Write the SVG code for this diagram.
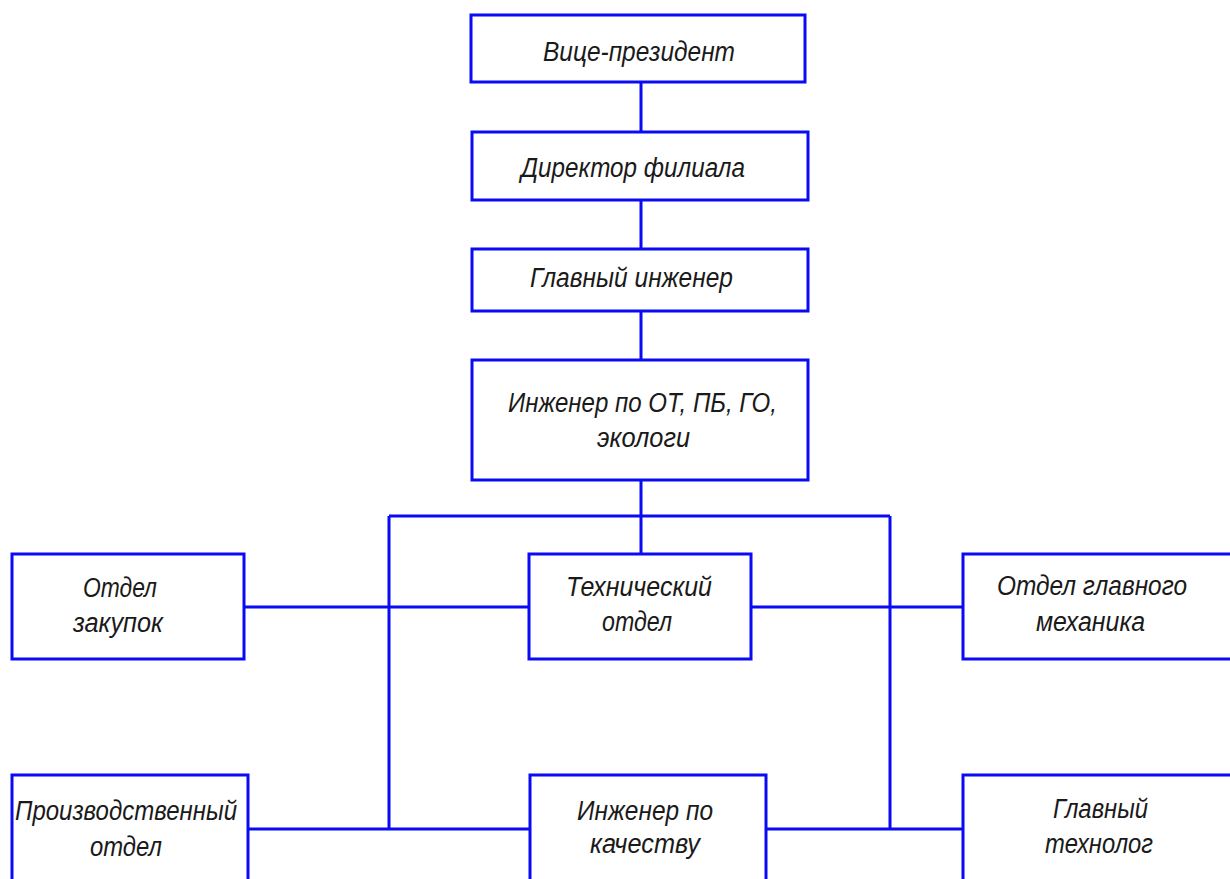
<svg xmlns="http://www.w3.org/2000/svg" width="1230" height="879" viewBox="0 0 1230 879">
<style>
.box{fill:#fff;stroke:#0a0af5;stroke-width:3}
.ln{fill:none;stroke:#0a0af5;stroke-width:3}
text{font-family:"Liberation Sans",Arial,sans-serif;font-style:italic;font-size:27px;fill:#1a1a1a}
</style>
<rect width="1230" height="879" fill="#fff"/>
<g id="connectors">
<path class="ln" d="M641 82V132M641 200V249M641 311V360M641 480V554M389 516H890M389 516V829M890 516V829M244 607H529M751 607H963M248 829H530M766 829H963"/>
</g>
<g id="n1"><rect class="box" x="471" y="15" width="334" height="67"/><text x="543" y="61" textLength="192" lengthAdjust="spacingAndGlyphs">Вице-президент</text></g>
<g id="n2"><rect class="box" x="472" y="132" width="336" height="68"/><text x="521" y="177" textLength="224" lengthAdjust="spacingAndGlyphs">Директор филиала</text></g>
<g id="n3"><rect class="box" x="472" y="249" width="336" height="62"/><text x="530" y="287" textLength="203" lengthAdjust="spacingAndGlyphs">Главный инженер</text></g>
<g id="n4"><rect class="box" x="472" y="360" width="336" height="120"/><text x="508" y="412" textLength="269" lengthAdjust="spacingAndGlyphs">Инженер по ОТ, ПБ, ГО,</text><text x="597" y="447" textLength="93" lengthAdjust="spacingAndGlyphs">экологи</text></g>
<g id="n5"><rect class="box" x="529" y="554" width="222" height="105"/><text x="566" y="596" textLength="146" lengthAdjust="spacingAndGlyphs">Технический</text><text x="602" y="631" textLength="70" lengthAdjust="spacingAndGlyphs">отдел</text></g>
<g id="n6"><rect class="box" x="12" y="554" width="232" height="105"/><text x="83" y="597" textLength="74" lengthAdjust="spacingAndGlyphs">Отдел</text><text x="73" y="632" textLength="90" lengthAdjust="spacingAndGlyphs">закупок</text></g>
<g id="n7"><rect class="box" x="963" y="554" width="280" height="105"/><text x="997" y="595" textLength="190" lengthAdjust="spacingAndGlyphs">Отдел главного</text><text x="1036" y="631" textLength="109" lengthAdjust="spacingAndGlyphs">механика</text></g>
<g id="n8"><rect class="box" x="12" y="775" width="236" height="120"/><text x="15" y="820" textLength="222" lengthAdjust="spacingAndGlyphs">Производственный</text><text x="90" y="856" textLength="72" lengthAdjust="spacingAndGlyphs">отдел</text></g>
<g id="n9"><rect class="box" x="530" y="775" width="236" height="120"/><text x="577" y="820" textLength="136" lengthAdjust="spacingAndGlyphs">Инженер по</text><text x="590" y="853" textLength="110" lengthAdjust="spacingAndGlyphs">качеству</text></g>
<g id="n10"><rect class="box" x="963" y="775" width="280" height="120"/><text x="1053" y="818" textLength="95" lengthAdjust="spacingAndGlyphs">Главный</text><text x="1045" y="853" textLength="108" lengthAdjust="spacingAndGlyphs">технолог</text></g>
</svg>
